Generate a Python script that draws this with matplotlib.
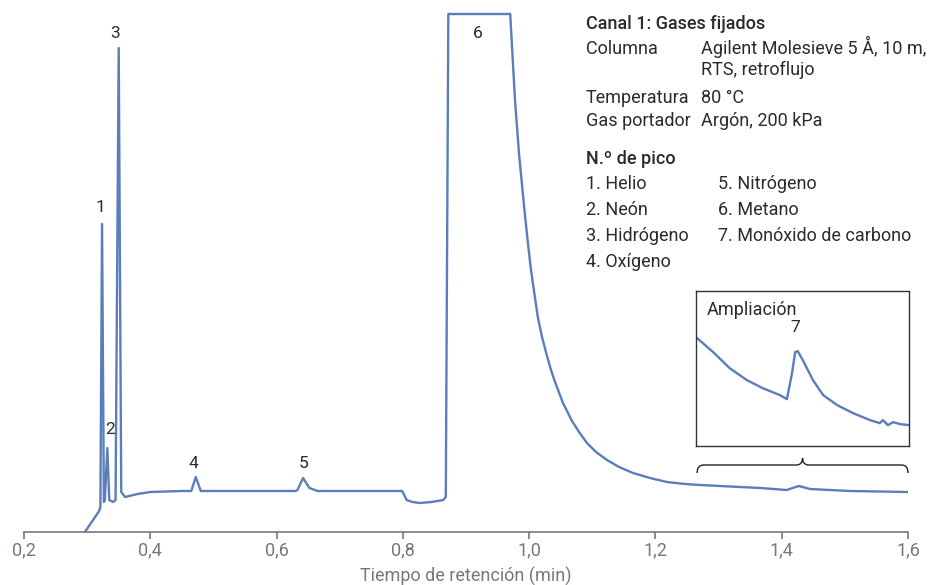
import matplotlib
matplotlib.use("Agg")
import matplotlib.pyplot as plt
from matplotlib.path import Path
from matplotlib.patches import PathPatch

# cromatograma, canal 1 (tiempo en min, señal en unidades arbitrarias)
tiempo = [0.290, 0.319, 0.321, 0.3236, 0.3265, 0.328, 0.332, 0.335, 0.341,
          0.345, 0.350, 0.354, 0.360, 0.380, 0.400, 0.450, 0.465, 0.472,
          0.480, 0.550, 0.630, 0.633, 0.642, 0.652, 0.665, 0.700, 0.799,
          0.806, 0.815, 0.827, 0.845, 0.864, 0.868, 0.872, 0.970, 0.9776,
          0.984, 0.9919, 0.9982, 1.0029, 1.0093, 1.0140, 1.0204, 1.0283,
          1.0346, 1.0410, 1.0536, 1.0679, 1.0790, 1.0916, 1.1059, 1.1233,
          1.1423, 1.1645, 1.1914, 1.2183, 1.2468, 1.2706, 1.366, 1.408,
          1.427, 1.445, 1.508, 1.600]
senal = [-6, 21, 25, 308, 30, 32, 84, 32, 30,
         32, 484, 40, 35, 38, 40, 41, 41, 55,
         41, 41, 41, 42, 54, 44, 41, 41, 41,
         32, 30, 29, 30, 32, 35, 518, 518, 432,
         378, 326, 288, 262, 234, 214, 195, 176,
         162, 150, 129, 111, 100, 89, 80, 72,
         65, 59, 54, 50, 48, 47, 44, 42,
         46, 43, 41, 40]

# ampliación del pico 7
tiempo_amp = [1.265, 1.292, 1.318, 1.345, 1.370, 1.397, 1.408, 1.416, 1.421,
              1.425, 1.433, 1.449, 1.465, 1.487, 1.512, 1.539, 1.554, 1.559,
              1.567, 1.575, 1.586, 1.600]
senal_amp = [48.0, 46.64, 45.18, 44.09, 43.36, 42.73, 42.36, 44.73, 46.64,
             46.73, 45.91, 44.09, 42.73, 41.82, 41.09, 40.45, 40.18, 40.45,
             40.0, 40.27, 40.09, 40.0]

picos = ["1", "2", "3", "4", "5", "6"]
pos_picos = [(0.3204, 324), (0.336, 103), (0.344, 498), (0.469, 69),
             (0.642, 69), (0.919, 499)]

ticks = [0.2, 0.4, 0.6, 0.8, 1.0, 1.2, 1.4, 1.6]

color_linea = "#5a7dbb"
gris = "#74787e"
texto = "#2b2b2b"
W, H = 938, 585

plt.rcParams["font.family"] = ["Roboto", "DejaVu Sans"]

fig = plt.figure(figsize=(W / 100, H / 100), dpi=100)
ax = fig.add_axes([24 / W, (H - 532) / H, 884 / W, 524 / H])
ax.plot(tiempo, senal, color=color_linea, lw=1.7, solid_joinstyle="round")
ax.set_xlim(0.2, 1.6)
ax.set_ylim(0, 524)
for s in ["top", "right", "left"]:
    ax.spines[s].set_visible(False)
ax.spines["bottom"].set_color(gris)
ax.spines["bottom"].set_linewidth(1.2)
ax.set_yticks([])
ax.set_xticks(ticks)
ax.set_xticklabels([f"{t:.1f}".replace(".", ",") for t in ticks])
ax.tick_params(axis="x", colors=gris, length=5, width=1.2, labelsize=13,
               pad=2)
ax.set_xlabel("Tiempo de retención (min)", fontsize=13, color=gris,
              labelpad=5)

for lab, (x, y) in zip(picos, pos_picos):
    ax.text(x, y, lab, ha="center", va="center", fontsize=12.5, color=texto)

# llave bajo la ampliación
x0, x1, xm = 1.266, 1.600, 1.433
yb, yh, yt = 59, 67, 74
verts = [(x0, yb), (x0, yh), (x0 + 0.01, yh), (xm - 0.01, yh), (xm, yh),
         (xm, yt), (xm, yh), (xm + 0.01, yh), (x1 - 0.01, yh), (x1, yh),
         (x1, yb)]
codes = [Path.MOVETO, Path.CURVE3, Path.CURVE3, Path.LINETO, Path.CURVE3,
         Path.CURVE3, Path.CURVE3, Path.CURVE3, Path.LINETO, Path.CURVE3,
         Path.CURVE3]
ax.add_patch(PathPatch(Path(verts, codes), fill=False, ec="#222222", lw=1.0,
                       clip_on=False))

# recuadro de ampliación
axi = fig.add_axes([696 / W, (H - 446) / H, 213 / W, 155 / H])
axi.plot(tiempo_amp, senal_amp, color=color_linea, lw=1.7)
axi.set_xlim(1.265, 1.6)
axi.set_ylim(38.1, 52.2)
axi.set_xticks([])
axi.set_yticks([])
for s in axi.spines.values():
    s.set_color("#333333")
    s.set_linewidth(1.0)
axi.text(11 / 213, 1 - 24 / 155, "Ampliación", transform=axi.transAxes,
         fontsize=13, color=texto, va="baseline")
axi.text(99 / 213, 1 - 37 / 155, "7", transform=axi.transAxes,
         fontsize=12.5, color=texto, ha="center", va="center")

# texto de condiciones
def ftext(x, y, s, **kw):
    fig.text(x / W, 1 - y / H, s, fontsize=13, color=texto,
             va="baseline", **kw)

ftext(586, 29, "Canal 1: Gases fijados", fontweight="medium")
ftext(586, 54, "Columna")
ftext(701, 54, "Agilent Molesieve 5 Å, 10 m,")
ftext(701, 75, "RTS, retroflujo")
ftext(586, 103, "Temperatura")
ftext(701, 103, "80 °C")
ftext(586, 126, "Gas portador")
ftext(701, 126, "Argón, 200 kPa")
ftext(586, 164, "N.º de pico", fontweight="medium")
ftext(586, 189, "1. Helio")
ftext(586, 215, "2. Neón")
ftext(586, 241, "3. Hidrógeno")
ftext(586, 267, "4. Oxígeno")
ftext(718, 189, "5. Nitrógeno")
ftext(718, 215, "6. Metano")
ftext(718, 241, "7. Monóxido de carbono")

fig.savefig("out.png", dpi=100, facecolor="white")
